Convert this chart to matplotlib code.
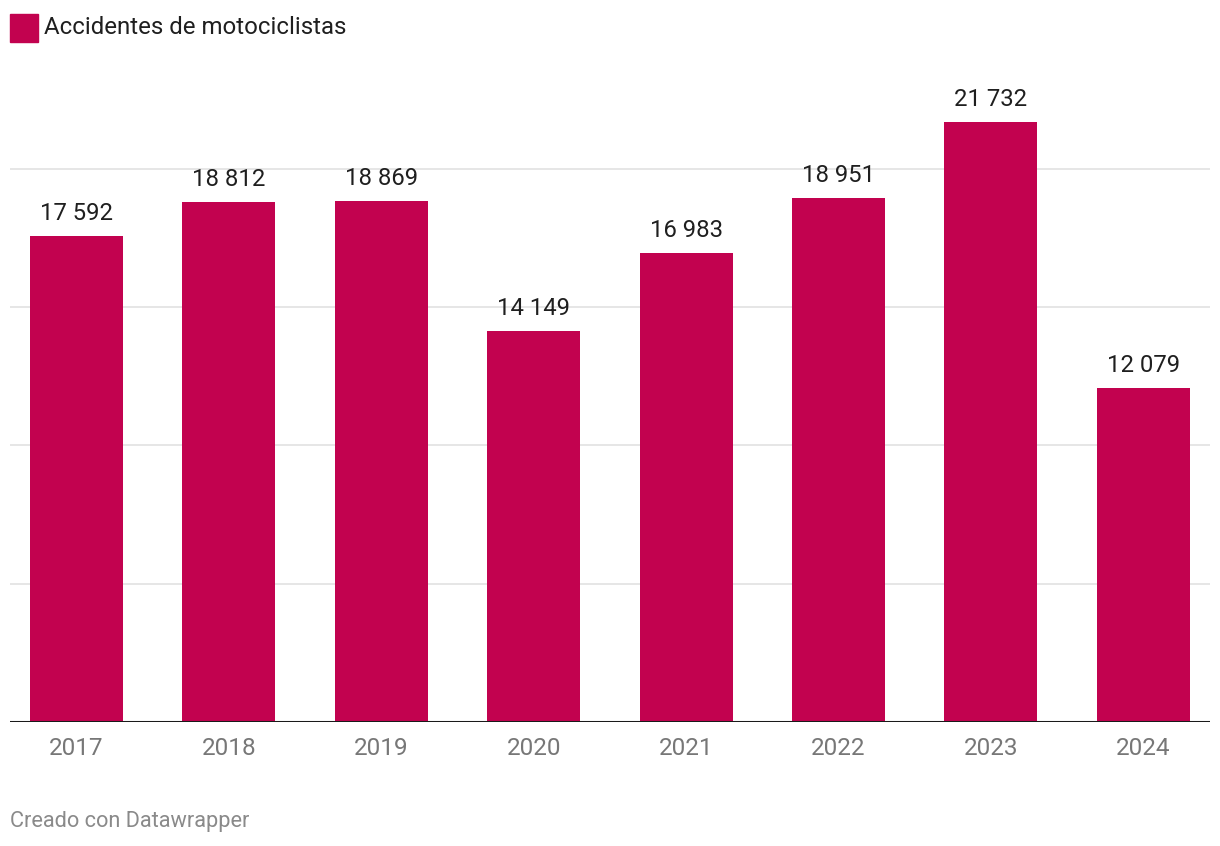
import matplotlib
matplotlib.use("Agg")
import matplotlib.pyplot as plt
from matplotlib.patches import Rectangle

years = ["2017", "2018", "2019", "2020", "2021", "2022", "2023", "2024"]
values = [17592, 18812, 18869, 14149, 16983, 18951, 21732, 12079]
series_name = "Accidentes de motociclistas"
bar_color = "#c2024f"
gridlines = [5000, 10000, 15000, 20000]

plt.rcParams["font.family"] = ["Roboto", "DejaVu Sans"]

W, H = 1220, 846
fig = plt.figure(figsize=(W / 100, H / 100), dpi=100)

ax_left, ax_right = 10, 1210
ax_bottom, ax_top = 721.5, 60.5
ax = fig.add_axes([ax_left / W, 1 - ax_bottom / H, (ax_right - ax_left) / W, (ax_bottom - ax_top) / H])

px_per_unit = 138 / 5000
ymax = (ax_bottom - ax_top) / px_per_unit
ax.set_ylim(0, ymax)

n = len(years)
spacing = 152.4
first_center = 76.5
xmin = -(first_center - ax_left) / spacing
xmax = xmin + (ax_right - ax_left) / spacing
ax.set_xlim(xmin, xmax)

x = list(range(n))
ax.bar(x, values, width=0.61, color=bar_color, zorder=2)

for g in gridlines:
    ax.axhline(g, color="#e2e2e2", lw=1.2, zorder=1)
ax.axhline(0, color="#1a1a1a", lw=2.2, zorder=3)

for xi, v in zip(x, values):
    label = f"{v:,}".replace(",", " ")
    ax.annotate(label, (xi, v), xytext=(0, 11), textcoords="offset pixels",
                ha="center", va="bottom", fontsize=17.2, color="#1f1f1f")

ax.set_xticks(x)
ax.set_xticklabels(years, fontsize=17.5, color="#777777")
ax.tick_params(axis="x", length=0, pad=11.5)
ax.set_yticks([])
for s in ax.spines.values():
    s.set_visible(False)

# legend
fig.patches.append(Rectangle((10 / W, 1 - 42 / H), 28 / W, 28 / H,
                             transform=fig.transFigure, color=bar_color))
fig.text(44 / W, 1 - 27 / H, series_name, fontsize=17.3, color="#1f1f1f", va="center", ha="left")

fig.text(10 / W, 1 - 821 / H, "Creado con Datawrapper", fontsize=15.7, color="#8a8a8a", va="center", ha="left")

fig.savefig("out.png", dpi=100, facecolor="white")
